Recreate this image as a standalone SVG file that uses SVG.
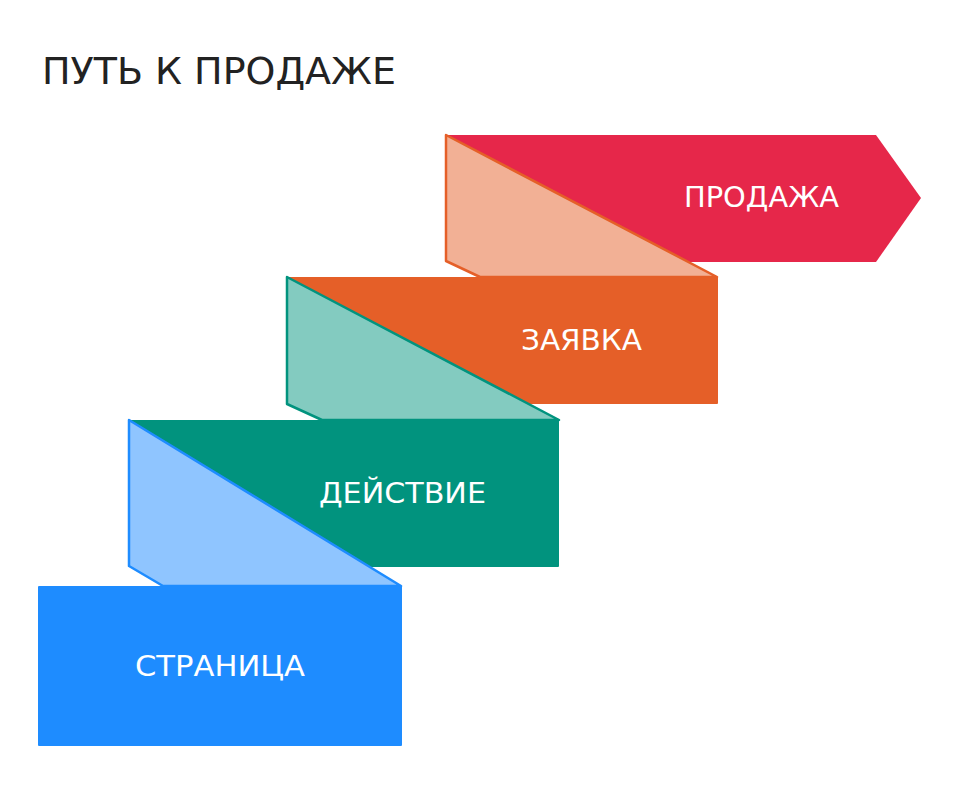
<svg xmlns="http://www.w3.org/2000/svg" width="960" height="795" viewBox="0 0 960 795">
  <style>
    .lbl { font-family: "DejaVu Sans", "Liberation Sans", sans-serif; font-size: 28px; fill: #ffffff; }
    .title { font-family: "DejaVu Sans", "Liberation Sans", sans-serif; font-size: 37px; fill: #222222; }
    .face { stroke-width: 2.5; stroke-linejoin: round; }
  </style>
  <rect width="960" height="795" fill="#ffffff"/>
  <text id="title" class="title" x="42" y="84" textLength="354" lengthAdjust="spacingAndGlyphs">ПУТЬ К ПРОДАЖЕ</text>

  <g id="connectors"></g>

  <g id="node-sale">
    <polygon points="446,135 876,135 921,198 876,262 446,262" fill="#E6274A"/>
    <text class="lbl" x="684" y="207" textLength="155" lengthAdjust="spacingAndGlyphs">ПРОДАЖА</text>
  </g>

  <g id="node-request">
    <polygon class="face" points="446,135 717,277 480,277 446,261" fill="#F2B095" stroke="#E55F28"/>
    <rect x="287" y="277" width="431" height="127" rx="1" fill="#E55F28"/>
    <text class="lbl" x="521" y="350" textLength="121" lengthAdjust="spacingAndGlyphs">ЗАЯВКА</text>
  </g>

  <g id="node-action">
    <polygon class="face" points="287,277 559,420 322,420 287,404" fill="#83CBC0" stroke="#01937E"/>
    <rect x="129" y="420" width="430" height="147" rx="1" fill="#01937E"/>
    <text class="lbl" x="319" y="503" textLength="167" lengthAdjust="spacingAndGlyphs">ДЕЙСТВИЕ</text>
  </g>

  <g id="node-page">
    <polygon class="face" points="129,420 401,586 163,586 129,566" fill="#8FC5FF" stroke="#1E8CFF"/>
    <rect x="38" y="586" width="364" height="160" rx="1" fill="#1E8CFF"/>
    <text class="lbl" x="135" y="676" textLength="170" lengthAdjust="spacingAndGlyphs">СТРАНИЦА</text>
  </g>
</svg>
